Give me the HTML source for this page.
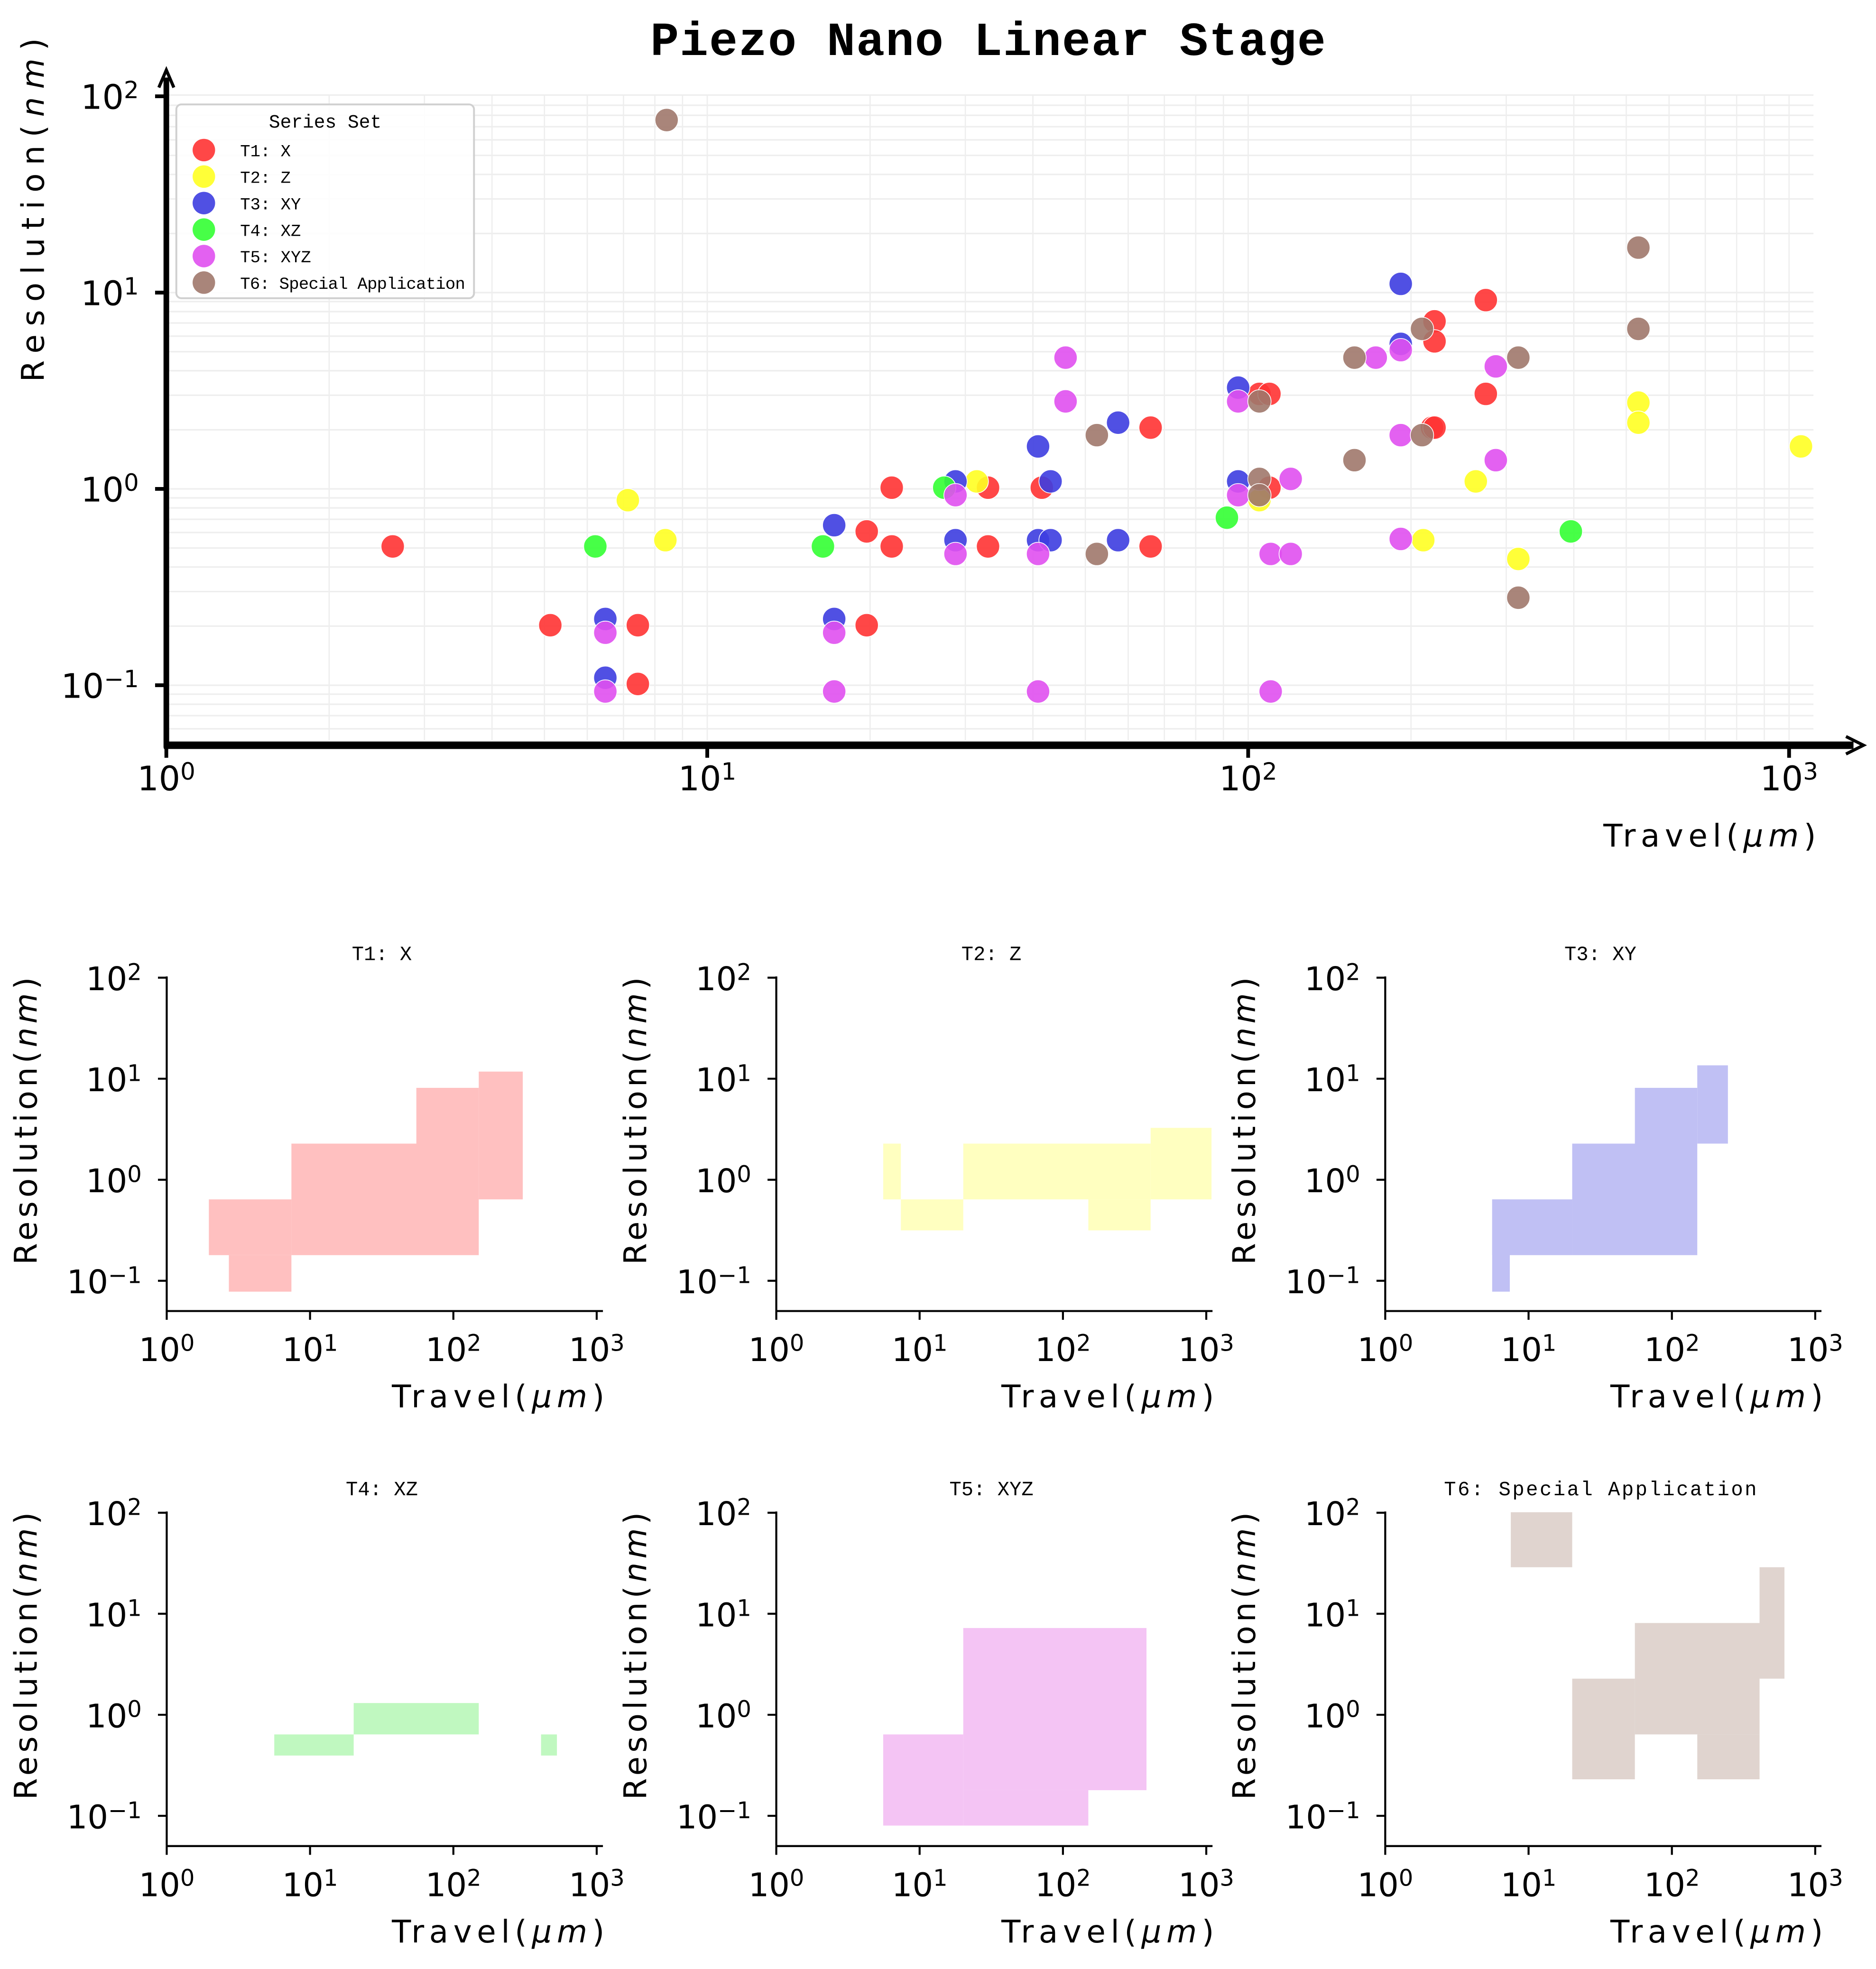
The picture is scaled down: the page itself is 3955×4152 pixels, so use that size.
<!DOCTYPE html>
<html><head><meta charset="utf-8">
<style>html,body{margin:0;padding:0;background:#fff;}svg{display:block;}</style>
</head><body>
<svg id="s" width="3955" height="4152" viewBox="0 0 1500 1574.7" xmlns="http://www.w3.org/2000/svg"></svg>
<script>
var o='';
var TF='font-family="DejaVu Sans, Liberation Sans, sans-serif"';
var MF='font-family="Liberation Mono, DejaVu Sans Mono, monospace"';
function sup(b,e){return '10<tspan dy="-0.45em" font-size="0.7em">'+e+'</tspan>';}
// ---------- main plot ----------
var L=133,R=1450,X0=133,DX=432.5,Y0=391,DY=157,B=596,T=76;
function mx(v){return X0+DX*Math.log10(v);} function my(v){return Y0-DY*Math.log10(v);}
for(var d=0;d<4;d++)for(var k=1;k<10;k++){var v=Math.pow(10,d)*k,x=mx(v);if(x>R)break;
 o+='<line x1="'+x+'" y1="'+T+'" x2="'+x+'" y2="'+(B-4)+'" stroke="#eee" stroke-width="1"/>';}
for(var d=-2;d<2;d++)for(var k=1;k<10;k++){var v=Math.pow(10,d)*k,y=my(v);if(y>B||y<T-1)continue;
 o+='<line x1="'+L+'" y1="'+y+'" x2="'+R+'" y2="'+y+'" stroke="#eee" stroke-width="1.2"/>';}
o+='<line x1="'+L+'" y1="'+T+'" x2="'+R+'" y2="'+T+'" stroke="#eee" stroke-width="1.2"/>';
function cx(e){return e;}
var pts={
'#ff3333':[[314,437],[440,500],[510,500],[510,547],[693,425],[693,500],[713,390],[713,437],[790,390],[790,437],[833,390],[920,342],[920,437],[1007,315],[1015,315],[1015,390],[1147,257],[1147,273],[1145,342],[1147,342],[1188,240],[1188,315]],
'#ffff22':[[502,400],[532,432],[781,385],[1007,400],[1138,432],[1180,385],[1214,447],[1310,322],[1310,338],[1440,357]],
'#3d3de0':[[484,495],[484,542],[667,420],[667,495],[764,385],[764,432],[830,357],[830,432],[840,385],[840,432],[894,338],[894,432],[990,310],[990,385],[1120,227],[1120,275]],
'#33ff33':[[476,437],[658,437],[755,390],[981,414],[1256,425]],
'#e050f0':[[484,506],[484,553],[667,506],[667,553],[764,396],[764,443],[852,286],[852,321],[830,443],[830,553],[990,321],[990,396],[1016,443],[1016,553],[1032,383],[1032,443],[1100,286],[1120,280],[1120,348],[1120,431],[1196,293],[1196,368]],
'#a0786c':[[533,96],[877,348],[877,443],[1007,321],[1007,383],[1007,396],[1083,286],[1083,368],[1137,263],[1137,348],[1214,286],[1214,478],[1310,198],[1310,263]]};
for(var c in pts)pts[c].forEach(function(p){o+='<circle cx="'+cx(p[0])+'" cy="'+p[1]+'" r="9.3" fill="'+c+'" fill-opacity="0.9" stroke="#fff" stroke-width="0.6"/>';});
o+='<line x1="'+L+'" y1="'+(B+2)+'" x2="'+L+'" y2="62" stroke="#000" stroke-width="4.5"/>';
o+='<path d="M127,70 L133,56 L139,70" fill="none" stroke="#000" stroke-width="2.5"/>';
o+='<line x1="'+(L-2)+'" y1="'+B+'" x2="1482" y2="'+B+'" stroke="#000" stroke-width="6"/>';
o+='<path d="M1476,589 L1490,596 L1476,603" fill="none" stroke="#000" stroke-width="2.5"/>';
for(var d=0;d<4;d++){var x=mx(Math.pow(10,d));o+='<line x1="'+x+'" y1="'+B+'" x2="'+x+'" y2="'+(B+10)+'" stroke="#000" stroke-width="3"/>';
 o+='<text x="'+x+'" y="632" '+TF+' font-size="27" text-anchor="middle">'+sup(10,d)+'</text>';}
for(var d=-1;d<3;d++){var y=my(Math.pow(10,d));o+='<line x1="'+(L-9)+'" y1="'+y+'" x2="'+L+'" y2="'+y+'" stroke="#000" stroke-width="3"/>';
 o+='<text x="'+(L-22)+'" y="'+(y+10)+'" '+TF+' font-size="27" text-anchor="end">'+sup(10,d==-1?'−1':d)+'</text>';}
o+='<text x="790" y="44" '+MF+' font-size="38" font-weight="bold" text-anchor="middle" textLength="540">Piezo Nano Linear Stage</text>';
o+='<text transform="translate(35,168) rotate(-90)" '+TF+' font-size="25" text-anchor="middle" textLength="275">Resolution(<tspan font-style="italic">nm</tspan>)</text>';
o+='<text x="1452" y="677" '+TF+' font-size="25" text-anchor="end" textLength="170">Travel(<tspan font-style="italic">μm</tspan>)</text>';
o+='<rect x="141" y="83.5" width="238" height="155" rx="4" fill="#fff" fill-opacity="0.85" stroke="#d0d0d0" stroke-width="1.5"/>';
o+='<text x="260" y="102" '+MF+' font-size="15" text-anchor="middle">Series Set</text>';
var names=['T1: X','T2: Z','T3: XY','T4: XZ','T5: XYZ','T6: Special Application'];
var cols=Object.keys(pts);
for(var i=0;i<6;i++){var y=120+21.2*i;o+='<circle cx="163" cy="'+y+'" r="9" fill="'+cols[i]+'" fill-opacity="0.9"/>';
 o+='<text x="192" y="'+(y+5)+'" '+MF+' font-size="13.5"'+(i==5?' textLength="180"':'')+'>'+names[i]+'</text>';}
// ---------- subplots ----------
var fills=['#ffc0c0','#ffffc0','#c0c0f4','#c0f8c0','#f4c4f4','#e0d4cf'];
var rects=[
 [[33.7,959.2,99.7,1003.8],[49.7,1003.8,99.7,1033],[99.7,914.6,249.5,1003.8],[199.6,870,249.5,914.6],[249.5,857,284.7,959.2]],
 [[85.5,914.6,99.6,959.2],[99.6,959.2,149.5,984],[149.5,914.6,299.3,959.2],[249.5,959.2,299.3,984],[299.3,902,348,959.2]],
 [[85.5,959.2,99.6,1033],[85.5,959.2,149.5,1003.8],[149.5,914.6,249.5,1003.8],[199.6,870,249.5,914.6],[249.5,852,274,914.6]],
 [[86,1387.1,149.5,1404],[149.5,1362,249.5,1387.1],[299.3,1387.1,312,1404]],
 [[85.5,1387.1,149.5,1460],[149.5,1302,296,1431.7],[149.5,1431.7,249.5,1460]],
 [[100.4,1209.4,149.5,1253.4],[149.5,1342.5,199.6,1423],[199.6,1298,299.3,1387.1],[249.5,1387.1,299.3,1423],[299.3,1253.4,319.2,1342.5]]];
var lefts=[133.3,620.7,1107.6];
for(var p=0;p<6;p++){
 var l=lefts[p%3],row=Math.floor(p/3),y0=row?1371.4:943.5,dd=80.8,b=row?1476.4:1048.5,dx=114.6;
 rects[p].forEach(function(r){o+='<rect x="'+(l+r[0])+'" y="'+r[1]+'" width="'+(r[2]-r[0])+'" height="'+(r[3]-r[1])+'" fill="'+fills[p]+'"/>';});
 o+='<line x1="'+l+'" y1="'+(y0-2*dd-1)+'" x2="'+l+'" y2="'+b+'" stroke="#000" stroke-width="1.6"/>';
 o+='<line x1="'+l+'" y1="'+b+'" x2="'+(l+3*dx+5)+'" y2="'+b+'" stroke="#000" stroke-width="1.6"/>';
 for(var d=0;d<4;d++){var x=l+dx*d;o+='<line x1="'+x+'" y1="'+b+'" x2="'+x+'" y2="'+(b+7)+'" stroke="#000" stroke-width="1.6"/>';
  o+='<text x="'+x+'" y="'+(b+40)+'" '+TF+' font-size="26" text-anchor="middle">'+sup(10,d)+'</text>';}
 for(var d=-1;d<3;d++){var y=y0-dd*d;o+='<line x1="'+(l-7)+'" y1="'+y+'" x2="'+l+'" y2="'+y+'" stroke="#000" stroke-width="1.6"/>';
  o+='<text x="'+(l-20)+'" y="'+(y+10)+'" '+TF+' font-size="26" text-anchor="end">'+sup(10,d==-1?'−1':d)+'</text>';}
 o+='<text x="'+(l+172)+'" y="'+(y0-2*dd-14)+'" '+MF+' font-size="16" text-anchor="middle"'+(p==5?' textLength="250"':'')+'>'+names[p]+'</text>';
 o+='<text transform="translate('+(l-104)+','+(y0-47)+') rotate(-90)" '+TF+' font-size="25" text-anchor="middle" textLength="230">Resolution(<tspan font-style="italic">nm</tspan>)</text>';
 o+='<text x="'+(l+350)+'" y="'+(b+77)+'" '+TF+' font-size="25" text-anchor="end" textLength="170">Travel(<tspan font-style="italic">μm</tspan>)</text>';
}
document.getElementById('s').innerHTML=o;
</script>
</body></html>
